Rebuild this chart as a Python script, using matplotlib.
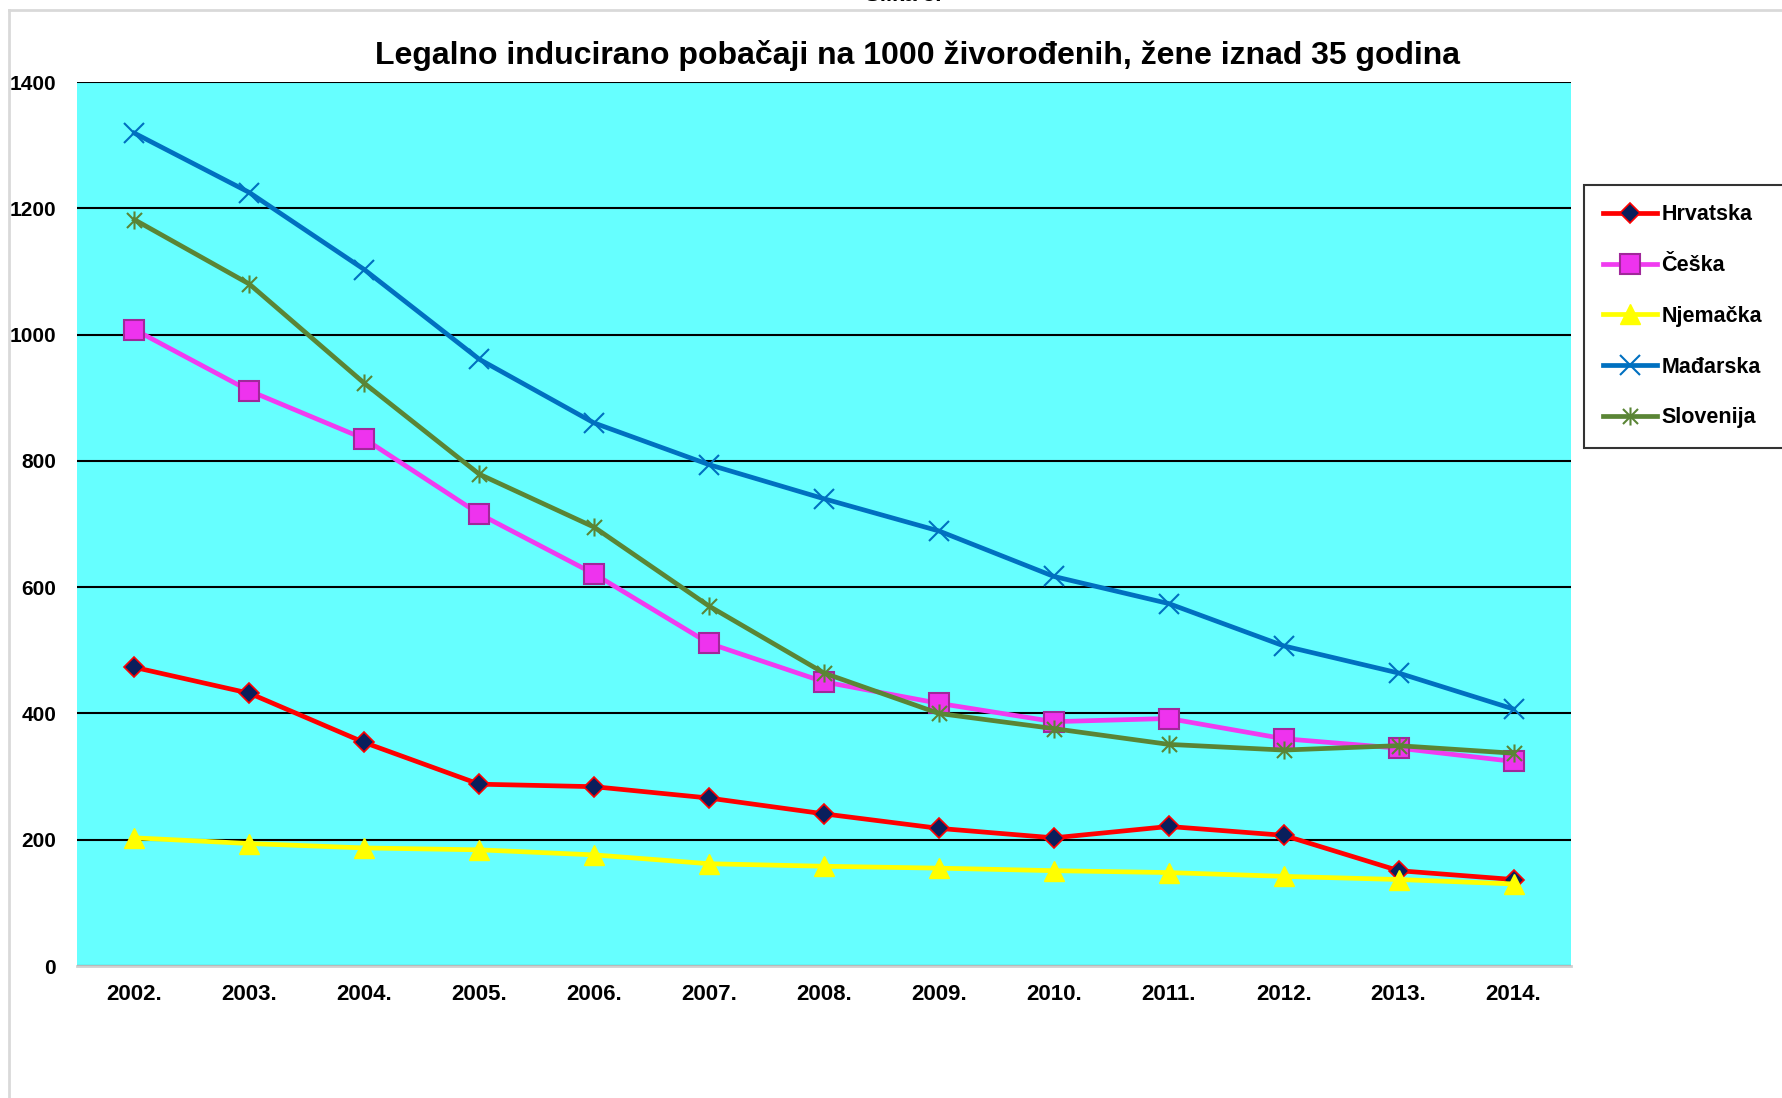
import matplotlib.pyplot as plt
from matplotlib.lines import Line2D
from matplotlib.path import Path

# Podaci (ocitano sa slike)
godine = ["2002.", "2003.", "2004.", "2005.", "2006.", "2007.", "2008.",
          "2009.", "2010.", "2011.", "2012.", "2013.", "2014."]
hrvatska = [473, 432, 354, 288, 284, 266, 241, 218, 203, 221, 207, 151, 137]
ceska = [1008, 911, 835, 716, 621, 511, 450, 416, 387, 392, 360, 345, 324]
njemacka = [203, 194, 187, 184, 176, 162, 158, 155, 151, 148, 142, 137, 130]
madarska = [1319, 1225, 1103, 961, 860, 794, 740, 689, 617, 574, 507, 464, 407]
slovenija = [1182, 1080, 923, 779, 695, 570, 464, 400, 376, 351, 342, 349, 337]

plt.rcParams['font.family'] = ['Liberation Sans', 'DejaVu Sans']

# Excel "star" marker: X plus vertical line
star = Path([(-1, -1), (1, 1), (-1, 1), (1, -1), (0, -1.2), (0, 1.2)],
            [Path.MOVETO, Path.LINETO, Path.MOVETO, Path.LINETO,
             Path.MOVETO, Path.LINETO])

fig = plt.figure(figsize=(17.82, 10.98), dpi=100)
ax = fig.add_axes([0.0432, 0.1202, 0.8384, 0.8051])
ax.set_facecolor('#66FFFF')

x = list(range(len(godine)))
ax.plot(x, hrvatska, color='#FF0000', lw=3.4, marker='D', ms=10,
        mfc='#0A1F5C', mec='#FF0000', mew=1.2, label='Hrvatska')
ax.plot(x, ceska, color='#F03CF0', lw=3.4, marker='s', ms=14,
        mfc='#EE33EE', mec='#A0289A', mew=1.5, label='Češka')
ax.plot(x, njemacka, color='#FFFF00', lw=3.4, marker='^', ms=14,
        mfc='#FFFF00', mec='#FFFF00', label='Njemačka')
ax.plot(x, madarska, color='#0070C0', lw=3.4, marker='x', ms=14,
        mec='#0070C0', mew=1.5, label='Mađarska')
ax.plot(x, slovenija, color='#5A8535', lw=3.4, marker=star, ms=13,
        mec='#5A8535', mew=1.5, label='Slovenija')

ax.set_xlim(-0.5, len(godine) - 0.5)
ax.set_ylim(0, 1400)
ax.set_yticks(range(0, 1401, 200))
ax.set_xticks(x)
ax.set_xticklabels(godine)
ax.yaxis.grid(True, color='black', lw=1.5)
ax.set_axisbelow(True)
ax.tick_params(axis='both', length=0)
ax.tick_params(axis='y', pad=15, labelsize=15)
ax.tick_params(axis='x', pad=13, labelsize=16)
for lab in ax.get_xticklabels() + ax.get_yticklabels():
    lab.set_fontweight('bold')
for s in ['left', 'right', 'top']:
    ax.spines[s].set_visible(False)
ax.spines['bottom'].set_color('#D0D0D0')
ax.spines['bottom'].set_linewidth(2)

fig.text(0.515, 0.949,
         "Legalno inducirano pobačaji na 1000 živorođenih, žene iznad 35 godina",
         ha='center', va='center', fontsize=23, fontweight='bold')

# legenda se protece preko desnog ruba kao u originalu
leg = ax.legend(loc='upper left', bbox_to_anchor=(1.0087, 0.8835, 0.14, 0.0),
                mode='expand', fontsize=15.5,
                frameon=True, fancybox=False, edgecolor='black',
                labelspacing=1.38, handlelength=2.5, borderpad=0.9,
                handletextpad=0.2, borderaxespad=0)
leg.get_frame().set_linewidth(1.5)
for t in leg.get_texts():
    t.set_fontweight('bold')

# okvir i odrezani natpis na vrhu
fig.add_artist(Line2D([0.005, 1.0], [0.991, 0.991], color='#D9D9D9', lw=2))
fig.add_artist(Line2D([0.005, 0.005], [0.0, 0.991], color='#D9D9D9', lw=2))
fig.text(0.507, 1.004, "Slika 5.", ha='center', va='center',
         fontsize=16, fontweight='bold')

fig.savefig("out.png", dpi=100)
